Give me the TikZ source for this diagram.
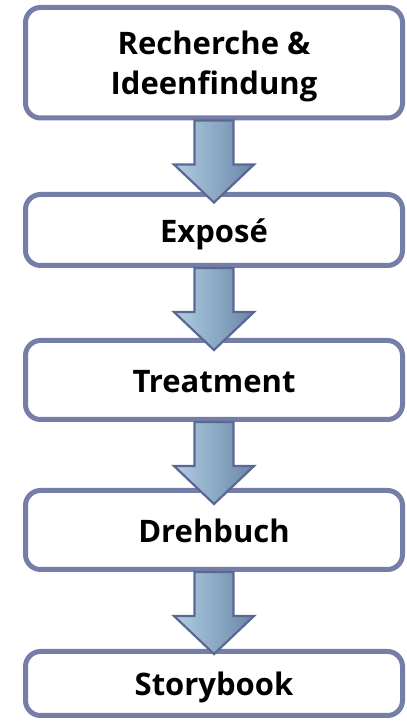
\documentclass[tikz,border=0pt]{standalone}
\usepackage{fontspec}
\setmainfont{Open Sans}
\usetikzlibrary{calc}
\definecolor{boxline}{RGB}{116,126,166}
\definecolor{flowline}{RGB}{92,104,148}
\definecolor{flowlight}{RGB}{178,206,228}
\definecolor{flowdark}{RGB}{104,134,166}
\tikzstyle{stage} = [draw=boxline,line width=5pt,rectangle,rounded corners=15pt,fill=white,inner sep=0,minimum width=377pt,align=center,text height=25pt,text depth=0pt,font=\fontsize{31}{40}\selectfont\bfseries]
\tikzstyle{flow} = [draw=flowline,line width=2.2pt,left color=flowlight,right color=flowdark]
\def \sw {19.5pt}
\def \sl {44pt}

\begin{document}
\begin{tikzpicture}[x=1pt,y=1pt]
      \useasboundingbox (0,0) rectangle (407,721);
      \node[stage,minimum height=110.5pt,text height=70pt,text depth=5.5pt] (idea) at (214,658.25) {Recherche \&\\Ideenfindung};
      \node[stage,minimum height=71pt] (expose) at (214,491) {Exposé};
      \node[stage,minimum height=79pt] (treat) at (214,341) {Treatment};
      \node[stage,minimum height=79pt] (script) at (214,191) {Drehbuch};
      \node[stage,minimum height=64pt] (story) at (214,37.5) {Storybook};
      \foreach \a/\b in {idea/expose,expose/treat,treat/script,script/story}
        \draw[flow] ([xshift=-\sw]\a.south) -- ++(0,-\sl) -- ++(-20.5,0)
          -- ($(\a.south)!82pt!(\b.north)$) -- ++(40,38) -- ++(-20.5,0)
          -- ([xshift=\sw]\a.south) -- cycle;
    \end{tikzpicture}
\end{document}
